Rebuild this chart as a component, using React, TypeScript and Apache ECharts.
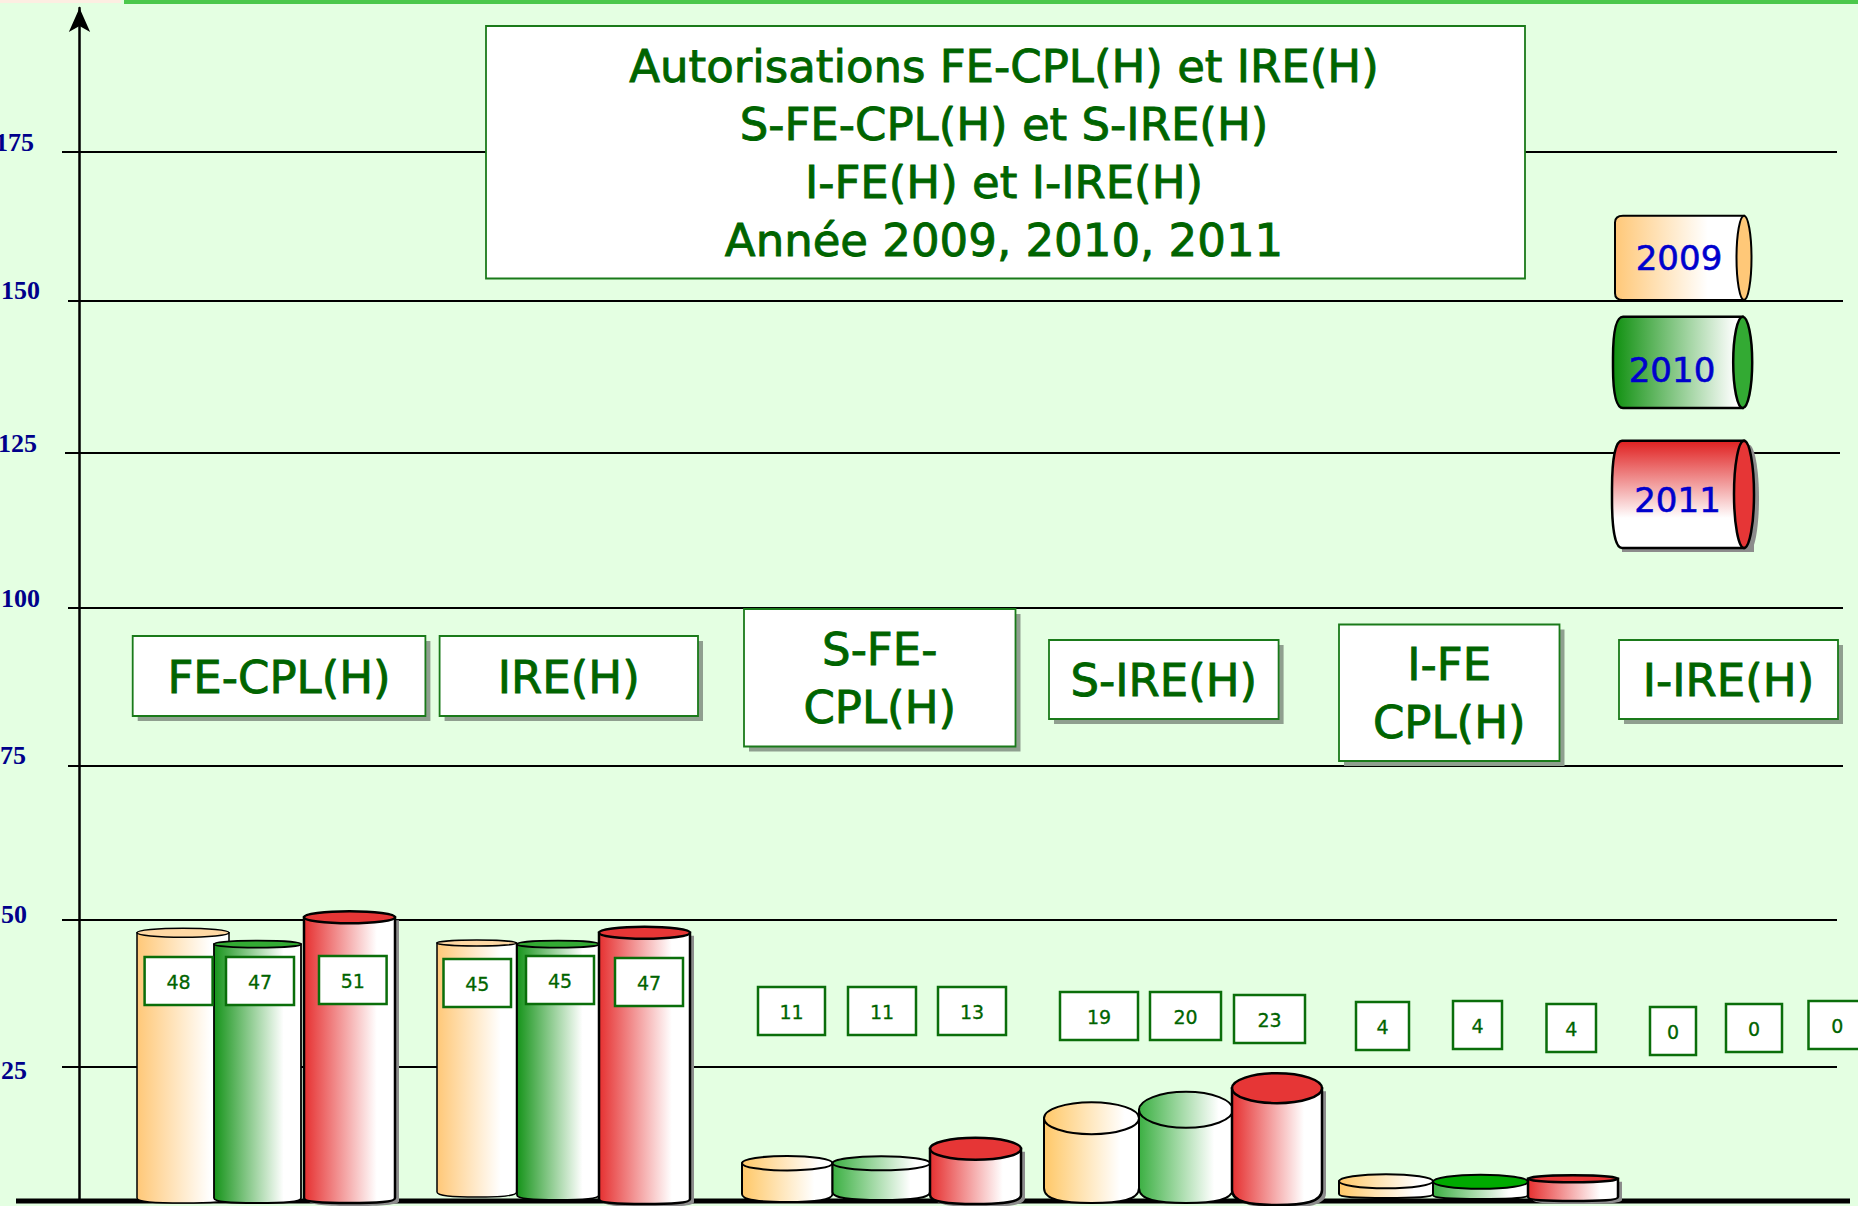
import React, { useEffect, useRef } from "react";
import * as echarts from "echarts";

// --- Data ---
const categories = ["FE-CPL(H)", "IRE(H)", "S-FE-\nCPL(H)", "S-IRE(H)", "I-FE\nCPL(H)", "I-IRE(H)"];
const years = ["2009", "2010", "2011"];
const values2009 = [48, 45, 11, 19, 4, 0];
const values2010 = [47, 45, 11, 20, 4, 0];
const values2011 = [51, 47, 13, 23, 4, 0];
// The cylinders of the picture are hand drawn: height actually drawn, on the chart's y scale
const drawn2009 = [44.7, 43, 6.3, 13.8, 3.3];
const drawn2010 = [42.8, 42.8, 6.3, 15.2, 3.2];
const drawn2011 = [47.3, 44.7, 8.7, 18.8, 3.7];
const tickLabels = ["175", "150", "125", "100", "75", "50", "25"];
// where the picture's gridlines sit on the y scale (its ticks are not evenly spaced)
const tickPlaces = [174.83, 150, 124.67, 98.83, 72.5, 46.83, 22.33];
const labelPlaces = [176.5, 151.67, 126.17, 100.5, 74.17, 47.67, 21.83];
const labelGaps = [6, 0, 3, 0, 14, 13, 13];
const titleLines = ["Autorisations FE-CPL(H) et IRE(H)", "S-FE-CPL(H) et S-IRE(H)", "I-FE(H) et I-IRE(H)", "Année 2009, 2010, 2011"];

// --- Layout (pixels) ---
const Y_MAX = 1193 / 6;
const gridLeft = [62, 68, 65, 68, 68, 62, 62];
const gridRight = [1837, 1843, 1840, 1843, 1843, 1837, 1837];
const barX = [
  [[137, 229], [437, 516.5], [742, 832.5], [1044, 1139], [1339, 1433]],
  [[214, 301], [517, 599], [832.5, 930], [1139, 1233], [1433, 1528]],
  [[304, 395], [599, 690], [930, 1021], [1232, 1322], [1528, 1618]],
];
const barRy = [
  [4.5, 3, 7.3, 16, 7],
  [3.5, 3.5, 7, 18, 7],
  [6, 6, 11, 15, 3.5],
];
const barRb = [
  [5, 5, 8, 15, 4],
  [5, 5, 8, 15, 4],
  [5, 5, 9, 15, 4],
];
const barBottom = [
  [1203, 1197, 1202, 1203, 1198],
  [1203, 1200, 1200, 1203, 1199],
  [1203, 1204, 1204, 1205, 1201],
];
const barStroke = [
  [1.5, 1.5, 2, 2, 2],
  [1.8, 1.8, 2, 2, 2],
  [2.5, 2.5, 2.5, 2.5, 2.5],
];
const valueBoxes = [
  [[144.6, 212.6, 957], [443.5, 511, 959], [758, 825, 987], [1060, 1138, 992], [1356, 1409, 1002], [1650, 1696, 1007]],
  [[226, 294, 957], [526, 594, 956], [848, 916, 987], [1150, 1221, 992], [1453, 1502, 1001], [1726, 1782, 1004]],
  [[319, 386.6, 956], [615, 683, 958], [938, 1006, 987], [1234, 1305, 995], [1546.5, 1596, 1004], [1808.5, 1866, 1001]],
];
const categoryBoxes = [
  [132.7, 425.4, 636, 716],
  [439.6, 698, 636, 716],
  [744, 1015.5, 609, 746.5],
  [1049, 1278.6, 640, 719],
  [1339, 1559.5, 624.5, 761],
  [1619, 1838, 640, 719],
];
const FONT = '"DejaVu Sans", sans-serif';
const GREEN_TEXT = "#006400";

const grad = (c: string, stop = 0.8, vertical = false) =>
  new echarts.graphic.LinearGradient(0, 0, vertical ? 0 : 1, vertical ? 1 : 0, [
    { offset: 0, color: c },
    { offset: stop, color: "#ffffff" },
    { offset: 1, color: "#ffffff" },
  ]);
const bodyColors = ["#ffc878", "#16941a", "#e63030"];
const shortBodyColors = ["#ffc868", "#3cb043", "#e63030"];
const topColors = ["#ffd8a4", "#33aa33", "#e63636"];

echarts.graphic.registerShape(
  "cylBody",
  echarts.graphic.extendShape({
    shape: { x0: 0, x1: 0, top: 0, bottom: 0, rb: 4 },
    buildPath(ctx: any, s: any) {
      const w = s.x1 - s.x0;
      const cx = (s.x0 + s.x1) / 2;
      ctx.moveTo(s.x0, s.top);
      ctx.lineTo(s.x0, s.bottom - s.rb);
      ctx.bezierCurveTo(s.x0, s.bottom - s.rb * 0.2, s.x0 + w * 0.2, s.bottom, cx, s.bottom);
      ctx.bezierCurveTo(s.x1 - w * 0.2, s.bottom, s.x1, s.bottom - s.rb * 0.2, s.x1, s.bottom - s.rb);
      ctx.lineTo(s.x1, s.top);
      ctx.closePath();
    },
  })
);
echarts.graphic.registerShape(
  "cylSide",
  echarts.graphic.extendShape({
    shape: { x0: 0, xe: 0, top: 0, bottom: 0, rl: 8, k: 0.1 },
    buildPath(ctx: any, s: any) {
      const h = s.bottom - s.top;
      ctx.moveTo(s.xe, s.top);
      ctx.lineTo(s.x0 + s.rl, s.top);
      ctx.bezierCurveTo(s.x0 + s.rl * 0.3, s.top, s.x0, s.top + h * s.k * 0.4, s.x0, s.top + h * s.k);
      ctx.lineTo(s.x0, s.bottom - h * s.k);
      ctx.bezierCurveTo(s.x0, s.bottom - h * s.k * 0.4, s.x0 + s.rl * 0.3, s.bottom, s.x0 + s.rl, s.bottom);
      ctx.lineTo(s.xe, s.bottom);
      ctx.closePath();
    },
  })
);

function cylinderSeries(yearIdx: number, values: number[], drawn: number[]) {
  return {
    type: "custom",
    name: years[yearIdx],
    coordinateSystem: "cartesian2d",
    clip: false,
    silent: true,
    z: 3 + yearIdx,
    encode: { x: 0, y: 2 },
    data: drawn.map((h, i) => [i, values[i], h]),
    renderItem(_p: any, api: any) {
      const i = api.value(0);
      const [px0, px1] = barX[yearIdx][i];
      const x0 = api.coord([px0, 0])[0];
      const x1 = api.coord([px1, 0])[0];
      const top = api.coord([px0, api.value(2)])[1];
      const bottom = barBottom[yearIdx][i];
      const ry = barRy[yearIdx][i];
      const rb = barRb[yearIdx][i];
      const lw = barStroke[yearIdx][i];
      const short = i >= 2;
      const topFill =
        short && (yearIdx === 0 || (yearIdx === 1 && i < 4))
          ? grad(shortBodyColors[yearIdx], 0.85)
          : yearIdx === 1 && i === 4
          ? "#00aa00"
          : topColors[yearIdx];
      const children: any[] = [];
      if (yearIdx === 2) {
        children.push({
          type: "cylBody",
          shape: { x0: x0 + 5, x1: x1 + 4, top: top + 3, bottom: bottom + 3, rb },
          style: { fill: "#8c8c8c", stroke: "none" },
        });
      }
      children.push({
        type: "cylBody",
        shape: { x0, x1, top, bottom, rb },
        style: { fill: grad(short ? shortBodyColors[yearIdx] : bodyColors[yearIdx]), stroke: "#000", lineWidth: lw },
      });
      children.push({
        type: "ellipse",
        shape: { cx: (x0 + x1) / 2, cy: top, rx: (x1 - x0) / 2, ry },
        style: { fill: topFill, stroke: "#000", lineWidth: lw },
      });
      return { type: "group", children };
    },
  };
}

function valueBoxSeries(yearIdx: number, values: number[]) {
  return {
    type: "custom",
    coordinateSystem: "cartesian2d",
    clip: false,
    silent: true,
    z: 8,
    encode: { x: 0, y: 1 },
    data: values.map((v, i) => [i, v]),
    renderItem(_p: any, api: any) {
      const i = api.value(0);
      const [x0, x1, y0] = valueBoxes[yearIdx][i];
      return {
        type: "group",
        children: [
          {
            type: "rect",
            shape: { x: x0, y: y0, width: x1 - x0, height: 48 },
            style: { fill: "#fff", stroke: "#0a6e0a", lineWidth: 2.5 },
          },
          {
            type: "text",
            style: {
              x: (x0 + x1) / 2,
              y: y0 + 25,
              text: String(api.value(1)),
              fill: GREEN_TEXT,
              stroke: GREEN_TEXT,
              lineWidth: 0.3,
              fontFamily: FONT,
              fontSize: 19,
              align: "center",
              verticalAlign: "middle",
            },
          },
        ],
      };
    },
  };
}

function legendGraphics() {
  const items = [
    { y: "2009", x0: 1615, xe: 1744, rx: 7.5, top: 215.7, bottom: 300, rl: 8, k: 0.08, fill: grad("#ffc878", 0.72), end: "#ffc878", lw: 2, tx: 1679, ty: 258 },
    { y: "2010", x0: 1613, xe: 1742.7, rx: 9.5, top: 316.7, bottom: 408, rl: 10, k: 0.45, fill: grad("#0f900f", 0.95), end: "#33aa33", lw: 2.5, tx: 1672, ty: 370 },
    { y: "2011", x0: 1612, xe: 1744, rx: 10, top: 440.7, bottom: 548, rl: 10, k: 0.45, fill: grad("#e02020", 0.72, true), end: "#e63636", lw: 2.5, tx: 1677.5, ty: 500 },
  ];
  const out: any[] = [];
  items.forEach((it, idx) => {
    const cy = (it.top + it.bottom) / 2;
    const ry = (it.bottom - it.top) / 2;
    if (idx === 2) {
      out.push({ type: "ellipse", z: 6, shape: { cx: it.xe + 5, cy: cy + 4, rx: it.rx, ry }, style: { fill: "#8c8c8c" } });
      out.push({ type: "rect", z: 6, shape: { x: it.x0 + 10, y: it.top + 30, width: it.xe - it.x0, height: it.bottom - it.top - 26 }, style: { fill: "#8c8c8c" } });
    }
    out.push({
      type: "cylSide",
      z: 7,
      shape: { x0: it.x0, xe: it.xe, top: it.top, bottom: it.bottom, rl: it.rl, k: it.k },
      style: { fill: it.fill, stroke: "#000", lineWidth: it.lw },
    });
    out.push({
      type: "ellipse",
      z: 8,
      shape: { cx: it.xe, cy, rx: it.rx, ry },
      style: { fill: it.end, stroke: "#000", lineWidth: it.lw },
    });
    out.push({
      type: "text",
      z: 9,
      style: { x: it.tx, y: it.ty, text: it.y, fill: "#0000cd", stroke: "#0000cd", lineWidth: 0.6, fontFamily: FONT, fontSize: 34, align: "center", verticalAlign: "middle" },
    });
  });
  return out;
}

function categoryGraphics() {
  const out: any[] = [];
  categories.forEach((c, i) => {
    const [x0, x1, y0, y1] = categoryBoxes[i];
    out.push({ type: "rect", z: 6, shape: { x: x0 + 5, y: y0 + 5, width: x1 - x0, height: y1 - y0 }, style: { fill: "#8f9f8f" } });
    out.push({ type: "rect", z: 7, shape: { x: x0, y: y0, width: x1 - x0, height: y1 - y0 }, style: { fill: "#fff", stroke: "#1a7a1a", lineWidth: 1.8 } });
    out.push({
      type: "text",
      z: 8,
      style: {
        x: (x0 + x1) / 2,
        y: (y0 + y1) / 2 + 1,
        text: c,
        fill: GREEN_TEXT,
        stroke: GREEN_TEXT,
        lineWidth: 0.9,
        fontFamily: FONT,
        fontSize: 45,
        lineHeight: 58,
        align: "center",
        verticalAlign: "middle",
      },
    });
  });
  return out;
}

const gapRich: Record<string, any> = {};
labelGaps.forEach((g) => {
  gapRich["g" + g] = {
    padding: [0, g, 0, 0],
    color: "#00008b",
    fontFamily: '"Liberation Serif", serif',
    fontWeight: "bold",
    fontSize: 26,
  };
});

export default function App() {
  const ref = useRef<HTMLDivElement>(null);
  useEffect(() => {
    document.body.style.margin = "0";
    const chart = echarts.init(ref.current!, null, { renderer: "svg" });
    chart.setOption({
      animation: false,
      backgroundColor: "#e4ffe2",
      grid: { left: 79.5, top: 8, width: 1778.5, height: 1193, outerBoundsMode: "none" },
      xAxis: { type: "value", min: 79.5, max: 1858, show: false },
      yAxis: {
        type: "value",
        min: 0,
        max: Y_MAX,
        axisLine: { show: true, onZero: false, symbol: ["none", "arrow"], symbolSize: [16, 24], lineStyle: { color: "#000", width: 2.5 } },
        axisTick: { show: false },
        splitLine: { show: false },
        axisLabel: {
          customValues: labelPlaces,
          margin: 39.5,
          align: "right",
          color: "#00008b",
          fontFamily: '"Liberation Serif", serif',
          fontWeight: "bold",
          fontSize: 26,
          rich: gapRich,
          formatter: (v: number) => {
            const i = labelPlaces.indexOf(v);
            return i < 0 ? "" : "{g" + labelGaps[i] + "|" + tickLabels[i] + "}";
          },
        },
      },
      graphic: [
        { type: "rect", z: 1, shape: { x: 0, y: 0, width: 121, height: 3 }, style: { fill: "#fdeee2" } },
        { type: "rect", z: 1, shape: { x: 124, y: 0, width: 1734, height: 4 }, style: { fill: "#4bc84b" } },
        { type: "rect", z: 6, shape: { x: 486, y: 26, width: 1039, height: 252.5 }, style: { fill: "#fff", stroke: "#1a7a1a", lineWidth: 1.8 } },
        {
          type: "text",
          z: 7,
          style: {
            x: 1004,
            y: 153,
            text: titleLines.join("\n"),
            fill: GREEN_TEXT,
            stroke: GREEN_TEXT,
            lineWidth: 0.9,
            fontFamily: FONT,
            fontSize: 45,
            lineHeight: 58,
            align: "center",
            verticalAlign: "middle",
          },
        },
        ...categoryGraphics(),
        ...legendGraphics(),
      ],
      series: [
        {
          type: "custom",
          coordinateSystem: "cartesian2d",
          clip: false,
          silent: true,
          z: 1,
          encode: { x: 0, y: 1 },
          data: tickPlaces.map((p, i) => [i, p]),
          renderItem(_p: any, api: any) {
            const i = api.value(0);
            const a = api.coord([gridLeft[i], api.value(1)]);
            const b = api.coord([gridRight[i], api.value(1)]);
            return { type: "line", shape: { x1: a[0], y1: a[1], x2: b[0], y2: b[1] }, style: { stroke: "#000", lineWidth: 2.2 } };
          },
        },
        {
          type: "custom",
          coordinateSystem: "cartesian2d",
          clip: false,
          silent: true,
          z: 2,
          encode: { x: 0, y: 1 },
          data: [[16, 0]],
          renderItem(_p: any, api: any) {
            const a = api.coord([16, 0]);
            const b = api.coord([1850, 0]);
            return { type: "line", shape: { x1: a[0], y1: a[1], x2: b[0], y2: b[1] }, style: { stroke: "#000", lineWidth: 5 } };
          },
        },
        cylinderSeries(0, values2009, drawn2009),
        cylinderSeries(1, values2010, drawn2010),
        cylinderSeries(2, values2011, drawn2011),
        valueBoxSeries(0, values2009),
        valueBoxSeries(1, values2010),
        valueBoxSeries(2, values2011),
      ],
    });
    return () => chart.dispose();
  }, []);
  return <div ref={ref} style={{ position: "fixed", left: 0, top: 0, width: 1858, height: 1206 }} />;
}
